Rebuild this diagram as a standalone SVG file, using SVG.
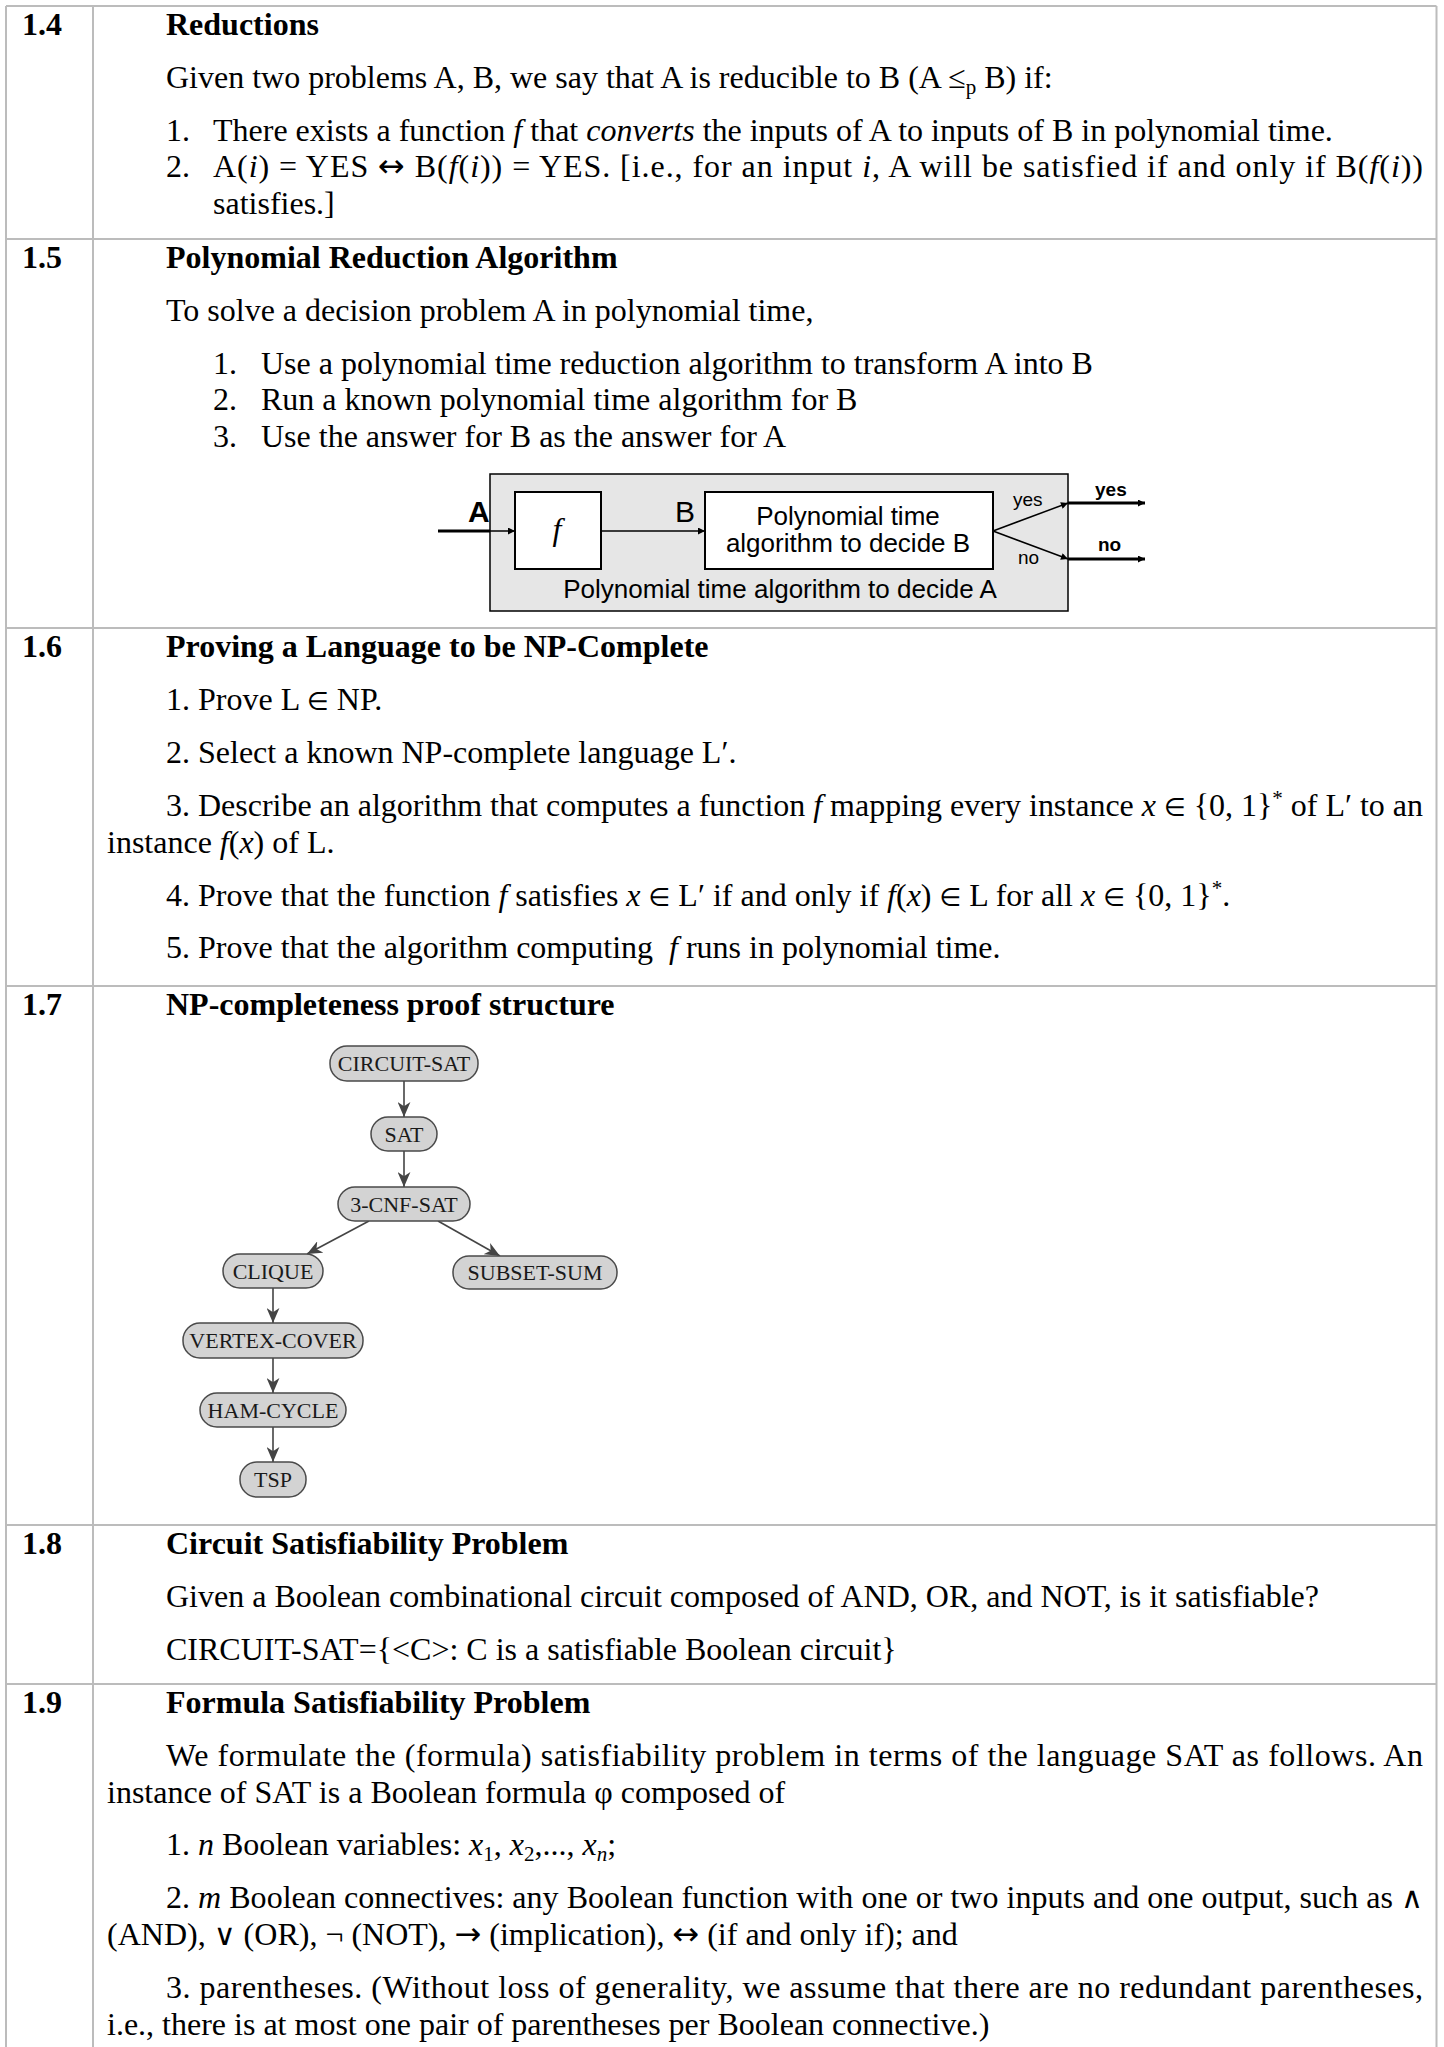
<svg xmlns="http://www.w3.org/2000/svg" width="1444" height="2047" viewBox="0 0 1444 2047">
<style>
.t{font-family:"Liberation Serif","Times New Roman",serif;font-size:32px;fill:#000}
.b{font-weight:bold}
.i{font-style:italic}
.el{font-family:"DejaVu Sans",sans-serif;font-size:25px}
.lg{font-family:"DejaVu Sans",sans-serif;font-size:30px}
.ar{font-family:"DejaVu Sans",sans-serif;font-size:32px}
.grid{stroke:#bcbcbc;stroke-width:2;fill:none}
.s{font-family:"Liberation Sans",Arial,sans-serif;fill:#000}
.box{fill:#fff;stroke:#000;stroke-width:2}
.thin{stroke:#000;stroke-width:1.5;fill:none}
.thick{stroke:#000;stroke-width:3;fill:none}
.node rect{fill:#d3d3d3;stroke:#4a4a4a;stroke-width:1.5}
.node text{font-family:"Liberation Serif","Times New Roman",serif;font-size:22px;fill:#1a1a1a;text-anchor:middle}
.edge{stroke:#444;stroke-width:1.6;fill:none}
</style>
<defs>
<marker id="ah" viewBox="0 0 10 10" refX="10" refY="5" markerWidth="9" markerHeight="7" markerUnits="userSpaceOnUse" orient="auto">
<path d="M0,0 L10,5 L0,10 z" fill="#000"/>
</marker>
<marker id="ga" viewBox="0 0 14 12" refX="14" refY="6" markerWidth="15" markerHeight="13" markerUnits="userSpaceOnUse" orient="auto">
<path d="M0,0 L14,6 L0,12 L4,6 z" fill="#444"/>
</marker>
</defs>
<rect width="1444" height="2047" fill="#fff"/>
<g id="table">
<path class="grid" d="M6,6 H1436.5 M6,239 H1436.5 M6,628 H1436.5 M6,986 H1436.5 M6,1525 H1436.5 M6,1684 H1436.5 M6,6 V2047 M93,6 V2047 M1436.5,6 V2047"/>
</g>
<g id="row-1-4">
<text class="t b" x="22" y="35">1.4</text>
<text class="t b" x="166" y="35">Reductions</text>
<text class="t" x="166" y="88">Given two problems A, B, we say that A is reducible to B (A ≤<tspan dy="6" font-size="21">p</tspan><tspan dy="-6"> B) if:</tspan></text>
<text class="t" x="166" y="141">1.</text>
<text class="t" x="213" y="141">There exists a function <tspan class="i">f</tspan> that <tspan class="i">converts</tspan> the inputs of A to inputs of B in polynomial time.</text>
<text class="t" x="166" y="177">2.</text>
<text class="t" x="213" y="177" textLength="1210" lengthAdjust="spacing">A(<tspan class="i">i</tspan>) = YES <tspan class="ar">↔</tspan> B(<tspan class="i">f</tspan>(<tspan class="i">i</tspan>)) = YES. [i.e., for an input <tspan class="i">i</tspan>, A will be satisfied if and only if B(<tspan class="i">f</tspan>(<tspan class="i">i</tspan>))</text>
<text class="t" x="213" y="214">satisfies.]</text>
</g>
<g id="row-1-5">
<text class="t b" x="22" y="268">1.5</text>
<text class="t b" x="166" y="268">Polynomial Reduction Algorithm</text>
<text class="t" x="166" y="321">To solve a decision problem A in polynomial time,</text>
<text class="t" x="213" y="374">1.</text>
<text class="t" x="261" y="374">Use a polynomial time reduction algorithm to transform A into B</text>
<text class="t" x="213" y="410">2.</text>
<text class="t" x="261" y="410">Run a known polynomial time algorithm for B</text>
<text class="t" x="213" y="447">3.</text>
<text class="t" x="261" y="447">Use the answer for B as the answer for A</text>
</g>
<g id="reduction-diagram">
<rect x="490" y="474" width="578" height="137" fill="#e6e6e6" stroke="#000" stroke-width="1.5"/>
<g id="f-box"><rect class="box" x="515" y="492" width="86" height="77"/>
<text x="557" y="540" text-anchor="middle" font-family="Liberation Serif,serif" font-style="italic" font-size="32">f</text></g>
<g id="b-box"><rect class="box" x="705" y="492" width="288" height="77"/>
<text class="s" x="848" y="525" font-size="26" text-anchor="middle">Polynomial time</text>
<text class="s" x="848" y="552" font-size="26" text-anchor="middle">algorithm to decide B</text></g>
<text class="s" x="780" y="598" font-size="26" text-anchor="middle">Polynomial time algorithm to decide A</text>
<text class="s" x="468" y="522" font-size="30" font-weight="bold">A</text>
<text class="s" x="675" y="522" font-size="30">B</text>
<text class="s" x="1013" y="506" font-size="19">yes</text>
<text class="s" x="1018" y="564" font-size="19">no</text>
<text class="s" x="1095" y="496" font-size="19" font-weight="bold">yes</text>
<text class="s" x="1098" y="551" font-size="19" font-weight="bold">no</text>
<g id="reduction-connectors">
<line class="thick" x1="438" y1="531" x2="490" y2="531"/>
<line class="thin" x1="490" y1="531" x2="515" y2="531" marker-end="url(#ah)"/>
<line class="thin" x1="601" y1="531" x2="705" y2="531" marker-end="url(#ah)"/>
<line class="thin" x1="993" y1="531" x2="1068" y2="503" marker-end="url(#ah)"/>
<line class="thin" x1="993" y1="531" x2="1068" y2="559" marker-end="url(#ah)"/>
<line class="thick" x1="1068" y1="503" x2="1145" y2="503" marker-end="url(#ah)"/>
<line class="thick" x1="1068" y1="559" x2="1145" y2="559" marker-end="url(#ah)"/>
</g>
</g>
<g id="row-1-6">
<text class="t b" x="22" y="657">1.6</text>
<text class="t b" x="166" y="657">Proving a Language to be NP-Complete</text>
<text class="t" x="166" y="710">1. Prove L <tspan class="el">∈</tspan> NP.</text>
<text class="t" x="166" y="763">2. Select a known NP-complete language L′.</text>
<text class="t" x="166" y="816" textLength="1257" lengthAdjust="spacing">3. Describe an algorithm that computes a function <tspan class="i">f</tspan> mapping every instance <tspan class="i">x</tspan> <tspan class="el">∈</tspan> {0, 1}<tspan dy="-11" font-size="21">*</tspan><tspan dy="11"> of L′ to an</tspan></text>
<text class="t" x="107" y="853">instance <tspan class="i">f</tspan>(<tspan class="i">x</tspan>) of L.</text>
<text class="t" x="166" y="906">4. Prove that the function <tspan class="i">f</tspan> satisfies <tspan class="i">x</tspan> <tspan class="el">∈</tspan> L′ if and only if <tspan class="i">f</tspan>(<tspan class="i">x</tspan>) <tspan class="el">∈</tspan> L for all <tspan class="i">x</tspan> <tspan class="el">∈</tspan> {0, 1}<tspan dy="-11" font-size="21">*</tspan><tspan dy="11">.</tspan></text>
<text class="t" x="166" y="958">5. Prove that the algorithm computing <tspan class="i" dx="8">f</tspan> runs in polynomial time.</text>
</g>
<g id="row-1-7">
<text class="t b" x="22" y="1015">1.7</text>
<text class="t b" x="166" y="1015">NP-completeness proof structure</text>
</g>
<g id="graph-connectors">
<line class="edge" x1="404" y1="1081" x2="404" y2="1117" marker-end="url(#ga)"/>
<line class="edge" x1="404" y1="1151" x2="404" y2="1187" marker-end="url(#ga)"/>
<line class="edge" x1="369" y1="1221" x2="307" y2="1254" marker-end="url(#ga)"/>
<line class="edge" x1="438" y1="1221" x2="500" y2="1256" marker-end="url(#ga)"/>
<line class="edge" x1="273" y1="1288" x2="273" y2="1323" marker-end="url(#ga)"/>
<line class="edge" x1="273" y1="1358" x2="273" y2="1393" marker-end="url(#ga)"/>
<line class="edge" x1="273" y1="1427" x2="273" y2="1462" marker-end="url(#ga)"/>
</g>
<g id="n-circuit-sat" class="node"><rect x="330" y="1046" width="148" height="35" rx="17"/><text x="404" y="1071">CIRCUIT-SAT</text></g>
<g id="n-sat" class="node"><rect x="371" y="1117" width="66" height="34" rx="17"/><text x="404" y="1141.5">SAT</text></g>
<g id="n-3cnf" class="node"><rect x="338" y="1187" width="132" height="34" rx="17"/><text x="404" y="1211.5">3-CNF-SAT</text></g>
<g id="n-clique" class="node"><rect x="223" y="1254" width="100" height="34" rx="17"/><text x="273" y="1278.5">CLIQUE</text></g>
<g id="n-subset-sum" class="node"><rect x="453" y="1256" width="164" height="33" rx="16"/><text x="535" y="1280">SUBSET-SUM</text></g>
<g id="n-vertex-cover" class="node"><rect x="183" y="1323" width="180" height="35" rx="17"/><text x="273" y="1348">VERTEX-COVER</text></g>
<g id="n-ham-cycle" class="node"><rect x="200" y="1393" width="146" height="34" rx="17"/><text x="273" y="1417.5">HAM-CYCLE</text></g>
<g id="n-tsp" class="node"><rect x="240" y="1462" width="66" height="35" rx="17"/><text x="273" y="1487">TSP</text></g>
<g id="row-1-8">
<text class="t b" x="22" y="1554">1.8</text>
<text class="t b" x="166" y="1554">Circuit Satisfiability Problem</text>
<text class="t" x="166" y="1607">Given a Boolean combinational circuit composed of AND, OR, and NOT, is it satisfiable?</text>
<text class="t" x="166" y="1660">CIRCUIT-SAT={&lt;C&gt;: C is a satisfiable Boolean circuit}</text>
</g>
<g id="row-1-9">
<text class="t b" x="22" y="1713">1.9</text>
<text class="t b" x="166" y="1713">Formula Satisfiability Problem</text>
<text class="t" x="166" y="1766" textLength="1257" lengthAdjust="spacing">We formulate the (formula) satisfiability problem in terms of the language SAT as follows. An</text>
<text class="t" x="107" y="1803">instance of SAT is a Boolean formula φ composed of</text>
<text class="t" x="166" y="1855">1. <tspan class="i">n</tspan> Boolean variables: <tspan class="i">x</tspan><tspan dy="6" font-size="21">1</tspan><tspan dy="-6">, </tspan><tspan class="i">x</tspan><tspan dy="6" font-size="21">2</tspan><tspan dy="-6">,..., </tspan><tspan class="i">x</tspan><tspan class="i" dy="6" font-size="21">n</tspan><tspan dy="-6">;</tspan></text>
<text class="t" x="166" y="1908" textLength="1257" lengthAdjust="spacing">2. <tspan class="i">m</tspan> Boolean connectives: any Boolean function with one or two inputs and one output, such as <tspan class="lg">∧</tspan></text>
<text class="t" x="107" y="1945">(AND), <tspan class="lg">∨</tspan> (OR), ¬ (NOT), <tspan class="ar">→</tspan> (implication), <tspan class="ar">↔</tspan> (if and only if); and</text>
<text class="t" x="166" y="1998" textLength="1257" lengthAdjust="spacing">3. parentheses. (Without loss of generality, we assume that there are no redundant parentheses,</text>
<text class="t" x="107" y="2035">i.e., there is at most one pair of parentheses per Boolean connective.)</text>
</g>
</svg>
